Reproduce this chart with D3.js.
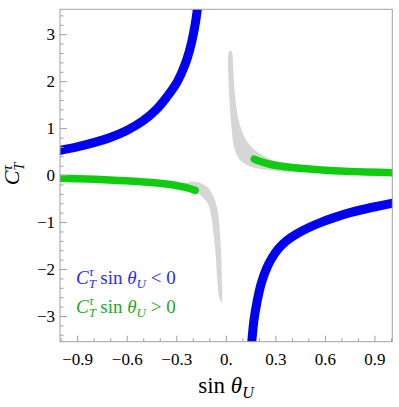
<!DOCTYPE html>
<html>
<head>
<meta charset="utf-8">
<script src="https://cdn.jsdelivr.net/npm/d3@7"></script>
<style>
  body { margin: 0; background: #fff; }
  svg { display: block; }
  text { font-family: "Liberation Serif", "Times New Roman", serif; }
</style>
</head>
<body>
<svg id="chart" width="399" height="407"></svg>
<script>
// tick values and labels
const xMajor = [-0.9, -0.6, -0.3, 0, 0.3, 0.6, 0.9];
const xMajorLabels = ["\u22120.9", "\u22120.6", "\u22120.3", "0.", "0.3", "0.6", "0.9"];
const xMinor = [-1.0, -0.8, -0.7, -0.5, -0.4, -0.2, -0.1, 0.1, 0.2, 0.4, 0.5, 0.7, 0.8, 1.0];
const yMajor = [-3, -2, -1, 0, 1, 2, 3];
const yMajorLabels = ["\u22123", "\u22122", "\u22121", "0", "1", "2", "3"];
const yMinor = [-3.4, -3.2, -2.8, -2.6, -2.4, -2.2, -1.8, -1.6, -1.4, -1.2, -0.8, -0.6, -0.4, -0.2,
                0.2, 0.4, 0.6, 0.8, 1.2, 1.4, 1.6, 1.8, 2.2, 2.4, 2.6, 2.8, 3.2, 3.4];

// C_T sin < 0 (blue bands), [sin θU, C_T]
const blueUpperLeft = [[-1.02, 0.515], [-0.9, 0.60], [-0.8, 0.69], [-0.7, 0.80], [-0.6, 0.95], [-0.5, 1.16],
  [-0.42, 1.40], [-0.358, 1.66], [-0.3, 1.95], [-0.265, 2.2], [-0.237, 2.45], [-0.207, 2.83],
  [-0.185, 3.22], [-0.17, 3.6], [-0.16, 3.9]];
const blueLowerRight = [[0.148, -3.9], [0.157, -3.55], [0.17, -3.1], [0.19, -2.68], [0.215, -2.3], [0.25, -1.96],
  [0.28, -1.76], [0.32, -1.56], [0.37, -1.39], [0.43, -1.25], [0.5, -1.12], [0.58, -1.0], [0.66, -0.9],
  [0.752, -0.80], [0.88, -0.69], [1.02, -0.59]];

// C_T sin > 0 (green bands)
const greenLeft = [[-1.02, -0.067], [-0.9, -0.078], [-0.762, -0.095], [-0.65, -0.113], [-0.56, -0.13], [-0.45, -0.157],
  [-0.358, -0.19], [-0.3, -0.22], [-0.258, -0.25], [-0.22, -0.285], [-0.185, -0.325]];
const greenRight = [[0.172, 0.34], [0.2, 0.3], [0.247, 0.252], [0.3, 0.21], [0.36, 0.178], [0.449, 0.145],
  [0.55, 0.117], [0.651, 0.094], [0.75, 0.078], [0.853, 0.066], [1.02, 0.05]];

// gray allowed region, outlines
const grayUpperCap = [0.027, 2.657];
const grayUpperInner = [[0.015, 2.557], [0.016, 2.025], [0.021, 1.663], [0.028, 1.28], [0.036, 0.96], [0.045, 0.683],
  [0.066, 0.428], [0.092, 0.3], [0.134, 0.204], [0.195, 0.14], [0.298, 0.09], [0.40, 0.07]];
const grayUpperOuter = [[0.037, 2.621], [0.045, 2.238], [0.053, 1.812], [0.062, 1.492], [0.077, 1.173], [0.096, 0.96],
  [0.116, 0.79], [0.146, 0.641], [0.177, 0.534], [0.219, 0.428], [0.298, 0.30], [0.40, 0.22]];
const grayLowerCap = [-0.025, -2.717];
const grayLowerInner = [[-0.021, -2.589], [-0.023, -2.304], [-0.029, -1.595], [-0.044, -0.886], [-0.056, -0.65],
  [-0.074, -0.46], [-0.104, -0.281], [-0.146, -0.18], [-0.19, -0.14], [-0.24, -0.16], [-0.29, -0.19]];
const grayLowerOuter = [[-0.031, -2.68], [-0.041, -2.589], [-0.050, -2.304], [-0.064, -1.595], [-0.088, -0.886],
  [-0.103, -0.65], [-0.124, -0.53], [-0.165, -0.40], [-0.22, -0.33], [-0.29, -0.28]];

const config = {
  width: 399,
  height: 407,
  margin: {top: 9.3, right: 6.7, bottom: 65.3, left: 60}
};

const svg = d3.select('#chart');
const m = config.margin;
const w = config.width - m.left - m.right;
const h = config.height - m.top - m.bottom;

const chart = svg.append('g').attr('transform', `translate(${m.left},${m.top})`);

const xScale = d3.scaleLinear().domain([-1.004, 1.008]).range([0, w]);
const yScale = d3.scaleLinear().domain([-3.547, 3.53]).range([h, 0]);

chart.append('clipPath').attr('id', 'plot-clip')
  .append('rect').attr('width', w).attr('height', h);

const plot = chart.append('g').attr('clip-path', 'url(#plot-clip)');

// gray region
const closed = d3.line()
  .x(d => xScale(d[0]))
  .y(d => yScale(d[1]))
  .curve(d3.curveCatmullRomClosed.alpha(0.5));

const grayShapes = [
  [grayUpperCap, ...grayUpperInner, ...grayUpperOuter.slice().reverse()],
  [grayLowerCap, ...grayLowerInner, ...grayLowerOuter.slice().reverse()]
];
plot.selectAll('.gray')
  .data(grayShapes)
  .enter()
  .append('path')
  .attr('class', 'gray')
  .attr('d', closed)
  .attr('fill', '#d6d6d6');

const line = d3.line()
  .x(d => xScale(d[0]))
  .y(d => yScale(d[1]))
  .curve(d3.curveCatmullRom.alpha(0.5));

plot.selectAll('.green')
  .data([greenLeft, greenRight])
  .enter()
  .append('path')
  .attr('class', 'green')
  .attr('d', line)
  .attr('fill', 'none')
  .attr('stroke', '#0fcc0f')
  .attr('stroke-width', 7.5)
  .attr('stroke-linecap', 'round');

plot.selectAll('.blue')
  .data([blueUpperLeft, blueLowerRight])
  .enter()
  .append('path')
  .attr('class', 'blue')
  .attr('d', line)
  .attr('fill', 'none')
  .attr('stroke', '#0000f2')
  .attr('stroke-width', 9);

// frame
chart.append('rect')
  .attr('width', w)
  .attr('height', h)
  .attr('fill', 'none')
  .attr('stroke', '#a0a0a0')
  .attr('stroke-width', 1);

// axes, ticks pointing inward
const styleAxis = g => {
  g.attr('font-family', '"Liberation Serif", serif').attr('font-size', 17);
  g.select('.domain').remove();
  g.selectAll('line').attr('stroke', '#a0a0a0');
  g.selectAll('text').attr('fill', '#000');
};

chart.append('g')
  .call(d3.axisLeft(yScale).tickValues(yMinor).tickSizeInner(-3.5).tickFormat(''))
  .call(styleAxis);
chart.append('g')
  .call(d3.axisLeft(yScale).tickValues(yMajor).tickSizeInner(-7).tickPadding(5)
    .tickFormat((d, i) => yMajorLabels[i]))
  .call(styleAxis);

chart.append('g')
  .attr('transform', `translate(0,${h})`)
  .call(d3.axisBottom(xScale).tickValues(xMinor).tickSizeInner(-3.5).tickFormat(''))
  .call(styleAxis);
chart.append('g')
  .attr('transform', `translate(0,${h})`)
  .call(d3.axisBottom(xScale).tickValues(xMajor).tickSizeInner(-6).tickPadding(11)
    .tickFormat((d, i) => xMajorLabels[i]))
  .call(styleAxis);

// x axis label
const xl = svg.append('text')
  .attr('x', 226)
  .attr('y', 393)
  .attr('text-anchor', 'middle')
  .style('font-size', '23px');
xl.append('tspan').text('sin ');
xl.append('tspan').style('font-style', 'italic').text('\u03b8');
xl.append('tspan').style('font-style', 'italic').style('font-size', '16px').attr('dy', 5).text('U');

// y axis label
const yl = svg.append('text')
  .attr('transform', 'translate(19,174) rotate(-90)')
  .attr('text-anchor', 'middle')
  .style('font-size', '22px');
yl.append('tspan').style('font-style', 'italic').text('C');
yl.append('tspan').style('font-style', 'italic').style('font-size', '14px').attr('dy', 5).text('T');
yl.append('tspan').style('font-style', 'italic').style('font-size', '14px').attr('dx', -7.5).attr('dy', -12).text('\u03c4');

// legend
const legendItems = [
  {sign: '<', color: '#2b2bf2', y: 284},
  {sign: '>', color: '#23a823', y: 312.5}
];
legendItems.forEach(item => {
  const t = svg.append('text')
    .attr('x', 76)
    .attr('y', item.y)
    .attr('fill', item.color)
    .style('font-size', '19px');
  t.append('tspan').style('font-style', 'italic').text('C');
  t.append('tspan').style('font-style', 'italic').style('font-size', '13px').attr('dy', 4).text('T');
  t.append('tspan').style('font-style', 'italic').style('font-size', '13px').attr('dx', -7).attr('dy', -12).text('\u03c4');
  t.append('tspan').attr('dx', 2).attr('dy', 8).text(' sin ');
  t.append('tspan').style('font-style', 'italic').text('\u03b8');
  t.append('tspan').style('font-style', 'italic').style('font-size', '13px').attr('dy', 4).text('U');
  t.append('tspan').attr('dy', -4).text(` ${item.sign} 0`);
});
</script>
</body>
</html>
